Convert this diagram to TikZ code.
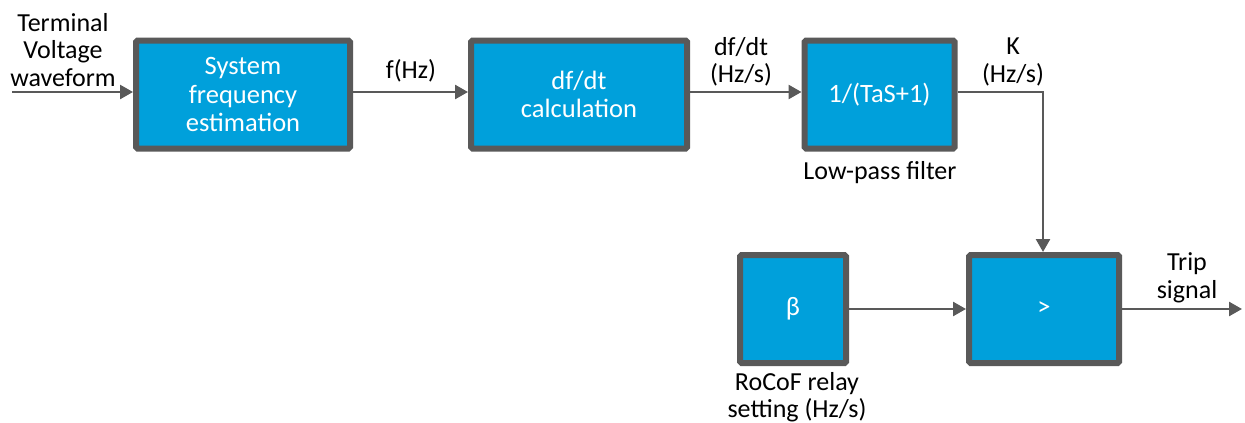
\documentclass[tikz,border=0pt]{standalone}
\usepackage{fontspec}
\setmainfont{Carlito}
\usetikzlibrary{arrows.meta,calc}
\definecolor{boxblue}{HTML}{00A0DB}
\definecolor{edgegray}{HTML}{595959}
\tikzset{
  blk/.style={draw=edgegray, line width=6pt, fill=boxblue, rounded corners=1.5pt,
    text=white, align=center, inner sep=0pt, font=\fontsize{26.5}{28.5}\selectfont},
  lbl/.style={align=center, inner sep=0pt, text=black, font=\fontsize{26}{27.5}\selectfont},
  conn/.style={draw=edgegray, line width=2.5pt, -{Triangle[length=13pt,width=14pt]}},
  plain/.style={draw=edgegray, line width=2.5pt}
}
\begin{document}
\begin{tikzpicture}[x=1pt,y=-1pt]
\useasboundingbox (0,0) rectangle (1245,423);
\node[blk, minimum width=214pt, minimum height=108pt] (b1) at (243,94.5) {System\\frequency\\estimation};
\node[blk, minimum width=216pt, minimum height=108pt] (b2) at (579,94.5) {df/dt\\calculation};
\node[blk, minimum width=150pt, minimum height=108pt] (b3) at (879.5,94.5) {1/(TaS+1)};
\node[blk, minimum width=106pt, minimum height=108pt] (beta) at (793,309) {β};
\node[blk, minimum width=150pt, minimum height=108pt] (gt) at (1044,309) {>};

\coordinate (in) at (12,92);
\coordinate (k) at (1043,92);
\coordinate (out) at (1242,309);

\node[lbl] (tvw) at (63,50) {Terminal\\Voltage\\waveform};
\node[lbl] (fhz) at (411,71) {f(Hz)};
\node[lbl] (dfdt) at (741,62) {df/dt\\(Hz/s)};
\node[lbl] (klbl) at (1013,62) {K\\(Hz/s)};
\node[lbl] (lpf) at (880,173) {Low-pass filter};
\node[lbl] (trip) at (1187,278) {Trip\\signal};
\node[lbl] (rocof) at (797,397) {RoCoF relay\\setting (Hz/s)};

\draw[conn] (in) -- (in -| b1.west);
\draw[conn] (b1.east |- in) -- (b2.west |- in);
\draw[conn] (b2.east |- in) -- (b3.west |- in);
\draw[conn] (b3.east |- in) -- (k) -- (k |- gt.north);
\draw[conn] (beta.east) -- (gt.west);
\draw[conn] (gt.east) -- (out);
\end{tikzpicture}
\end{document}
